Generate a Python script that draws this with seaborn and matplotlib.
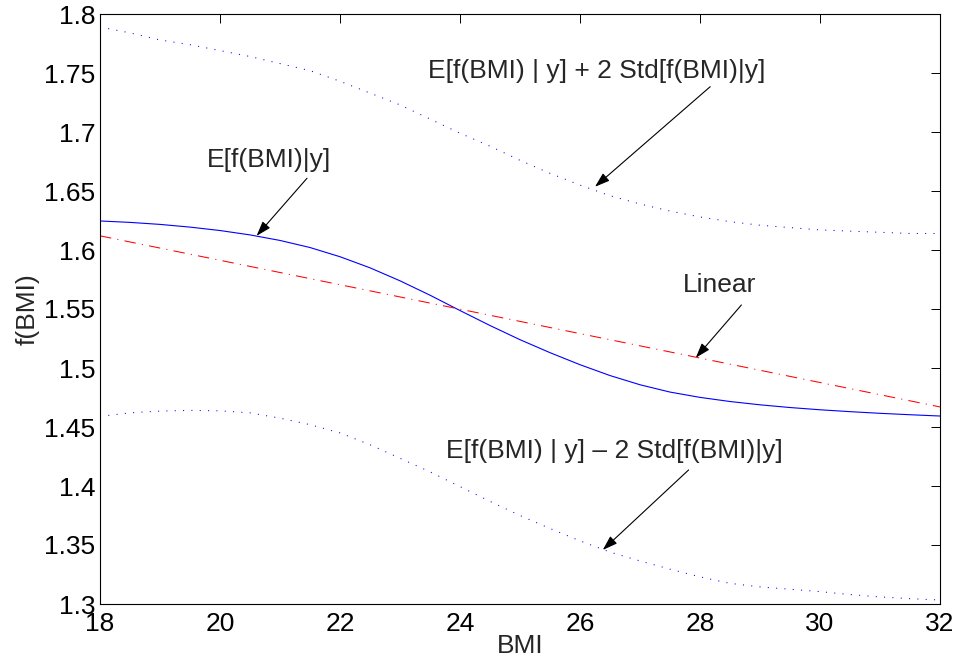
import matplotlib
matplotlib.use("Agg")
import matplotlib.pyplot as plt
import seaborn as sns
import pandas as pd

# ---- data ----
bmi = [18.0, 18.5, 19.0, 19.5, 20.0, 20.5, 21.0, 21.5, 22.0, 22.5, 23.0, 23.5,
       24.0, 24.5, 25.0, 25.5, 26.0, 26.5, 27.0, 27.5, 28.0, 28.5, 29.0, 29.5,
       30.0, 30.5, 31.0, 31.5, 32.0]
mean_f = [1.6246, 1.6234, 1.6217, 1.6194, 1.6165, 1.6128, 1.6081, 1.6021,
          1.5943, 1.5849, 1.5739, 1.5617, 1.5487, 1.5360, 1.5240, 1.5130,
          1.5028, 1.4936, 1.4858, 1.4796, 1.4751, 1.4716, 1.4688, 1.4665,
          1.4646, 1.4630, 1.4616, 1.4604, 1.4593]
upper_f = [1.789, 1.784, 1.778, 1.774, 1.769, 1.764, 1.758, 1.752, 1.743, 1.733,
           1.723, 1.711, 1.699, 1.688, 1.676, 1.665, 1.655, 1.646, 1.639, 1.633,
           1.628, 1.624, 1.621, 1.619, 1.617, 1.616, 1.615, 1.614, 1.614]
lower_f = [1.459, 1.462, 1.4635, 1.4641, 1.4637, 1.462, 1.4575, 1.452, 1.445,
           1.435, 1.4235, 1.412, 1.3995, 1.387, 1.375, 1.364, 1.3535, 1.344,
           1.3365, 1.3295, 1.323, 1.3175, 1.3145, 1.3125, 1.3105, 1.308, 1.306,
           1.3045, 1.3034]
linear_x = [18.0, 32.0]
linear_f = [1.612, 1.467]

x_ticks = [18, 20, 22, 24, 26, 28, 30, 32]
y_ticks = [1.3, 1.35, 1.4, 1.45, 1.5, 1.55, 1.6, 1.65, 1.7, 1.75, 1.8]
y_tick_labels = ["1.3", "1.35", "1.4", "1.45", "1.5", "1.55", "1.6", "1.65",
                 "1.7", "1.75", "1.8"]

lbl_upper = "E[f(BMI) | y] + 2 Std[f(BMI)|y]"
lbl_lower = "E[f(BMI) | y] \u2013 2 Std[f(BMI)|y]"
lbl_mean = "E[f(BMI)|y]"
lbl_linear = "Linear"

# ---- style ----
sns.set_style("white")
plt.rcParams["font.family"] = ["Liberation Sans", "DejaVu Sans"]
plt.rcParams["lines.scale_dashes"] = True

fig = plt.figure(figsize=(9.58, 6.61), dpi=100)
ax = fig.add_axes([100 / 958, 1 - 604 / 661, 840 / 958, 590 / 661])

df = pd.DataFrame({"bmi": bmi, "mean": mean_f, "upper": upper_f, "lower": lower_f})
dfl = pd.DataFrame({"bmi": linear_x, "lin": linear_f})

sns.lineplot(data=df, x="bmi", y="upper", ax=ax, color=(0, 0, 1), lw=0.75,
             linestyle=(0, (1, 7)), errorbar=None)
sns.lineplot(data=df, x="bmi", y="lower", ax=ax, color=(0, 0, 1), lw=0.75,
             linestyle=(0, (1, 7)), errorbar=None)
sns.lineplot(data=df, x="bmi", y="mean", ax=ax, color=(0, 0, 1), lw=0.8,
             errorbar=None)
sns.lineplot(data=dfl, x="bmi", y="lin", ax=ax, color=(1, 0, 0), lw=0.75,
             linestyle=(0, (11, 6, 1, 6)), errorbar=None)

ax.set_xlim(18, 32)
ax.set_ylim(1.3, 1.8)
ax.set_xticks(x_ticks)
ax.set_xticklabels([str(t) for t in x_ticks])
ax.set_yticks(y_ticks)
ax.set_yticklabels(y_tick_labels)
ax.tick_params(direction="in", length=6.5, width=0.7, top=True, right=True,
               labelsize=19, colors="black")
ax.tick_params(axis="y", pad=3.5)
ax.tick_params(axis="x", pad=6)
for s in ax.spines.values():
    s.set_visible(True)
    s.set_color("black")
    s.set_linewidth(0.8)

ax.set_xlabel("BMI", fontsize=19, labelpad=-2)
ax.set_ylabel("f(BMI)", fontsize=19, labelpad=3)

arrow = dict(arrowstyle="-|>,head_length=0.6,head_width=0.2", color="black",
             lw=0.8, mutation_scale=15, shrinkA=0, shrinkB=0)
fs = 19
ax.annotate("", xy=(26.25, 1.6536), xytext=(28.17, 1.7384), arrowprops=arrow)
ax.text(26.27, 1.752, lbl_upper, fontsize=fs, ha="center", va="center")

ax.annotate("", xy=(20.61, 1.612), xytext=(21.45, 1.6608), arrowprops=arrow)
ax.text(20.82, 1.676, lbl_mean, fontsize=fs, ha="center", va="center")

ax.annotate("", xy=(27.93, 1.5087), xytext=(28.69, 1.5534), arrowprops=arrow)
ax.text(28.32, 1.5703, lbl_linear, fontsize=fs, ha="center", va="center")

ax.annotate("", xy=(26.38, 1.3458), xytext=(27.81, 1.4136), arrowprops=arrow)
ax.text(26.58, 1.4297, lbl_lower, fontsize=fs, ha="center", va="center")

fig.savefig("out.png", dpi=100)
